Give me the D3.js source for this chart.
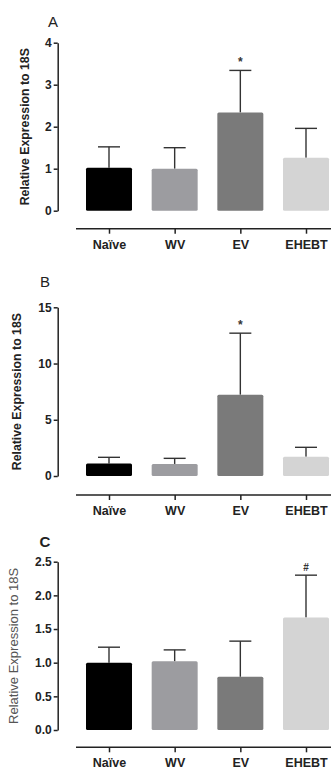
<!DOCTYPE html>
<html>
<head>
<meta charset="utf-8">
<script src="https://cdn.jsdelivr.net/npm/d3@7"></script>
<style>
  body { margin: 0; background: #fff; }
  svg { display: block; font-family: 'Liberation Sans', Arial, sans-serif; }
</style>
</head>
<body>
<script>
const categories = ['Naïve', 'WV', 'EV', 'EHEBT']
const barColors = ['#000000', '#9c9ca0', '#7a7a7a', '#d4d4d4']

// mean and upper error (mean + SD) for each panel
const meansA = [1.02, 1.0, 2.34, 1.26]
const upperA = [1.52, 1.5, 3.34, 1.96]
const marksA = ['', '', '*', '']
const ticksA = [0, 1, 2, 3, 4]

const meansB = [1.12, 1.07, 7.23, 1.72]
const upperB = [1.66, 1.57, 12.7, 2.55]
const marksB = ['', '', '*', '']
const ticksB = [0, 5, 10, 15]

const meansC = [1.0, 1.02, 0.79, 1.67]
const upperC = [1.23, 1.19, 1.32, 2.30]
const marksC = ['', '', '', '#']
const ticksC = [0, 0.5, 1.0, 1.5, 2.0, 2.5]

const width = 331
const height = 769

const svg = d3.select('body').append('svg')
  .attr('width', width)
  .attr('height', height)

const panels = [
  { title: 'A', titleBold: false, means: meansA, upper: upperA, marks: marksA, ticks: ticksA, fmt: d3.format('d'),
    yRange: [210.7, 42.7], axisY: 228.7, titleX: 53, titleY: 27, labelX: 29, labelBold: true },
  { title: 'B', titleBold: false, means: meansB, upper: upperB, marks: marksB, ticks: ticksB, fmt: d3.format('d'),
    yRange: [476, 307.3], axisY: 495, titleX: 45, titleY: 287, labelX: 21, labelBold: true },
  { title: 'C', titleBold: true, means: meansC, upper: upperC, marks: marksC, ticks: ticksC, fmt: d3.format('.1f'),
    yRange: [730, 561.7], axisY: 747.3, titleX: 45, titleY: 547, labelX: 18, labelBold: false }
]

const x = d3.scalePoint()
  .domain(categories)
  .range([109, 306])
const barWidth = 46
const capWidth = 22
const axisX = 57.7

panels.forEach(drawPanel)

function drawPanel (p) {
  const g = svg.append('g')
  const tMax = p.ticks[p.ticks.length - 1]

  const y = d3.scaleLinear()
    .domain([0, tMax])
    .range(p.yRange)

  // panel letter
  g.append('text')
    .attr('x', p.titleX)
    .attr('y', p.titleY)
    .attr('text-anchor', 'middle')
    .attr('font-size', 15)
    .attr('font-weight', p.titleBold ? 'bold' : 'normal')
    .attr('fill', '#222')
    .text(p.title)

  // y axis
  const yAxis = d3.axisLeft(y)
    .tickValues(p.ticks)
    .tickFormat(p.fmt)
    .tickSizeInner(4)
    .tickSizeOuter(0)
    .tickPadding(2)

  const ya = g.append('g')
    .attr('transform', `translate(${axisX},0)`)
    .call(yAxis)
  ya.select('.domain').attr('stroke', '#222').attr('stroke-width', 1.5)
  ya.selectAll('.tick line').attr('stroke', '#222').attr('stroke-width', 1.5)
  ya.selectAll('.tick text')
    .attr('font-size', 12)
    .attr('font-weight', 'bold')
    .attr('fill', '#222')
    .attr('font-family', 'Liberation Sans, Arial, sans-serif')

  g.append('text')
    .attr('transform', `translate(${p.labelX},${(p.yRange[0] + p.yRange[1]) / 2}) rotate(-90)`)
    .attr('text-anchor', 'middle')
    .attr('font-size', p.labelBold ? 12.3 : 13)
    .attr('font-weight', p.labelBold ? 'bold' : 'normal')
    .attr('fill', p.labelBold ? '#222' : '#555')
    .text('Relative Expression to 18S')

  // bars
  const data = categories.map((c, i) => ({ c, mean: p.means[i], up: p.upper[i], mark: p.marks[i], color: barColors[i] }))

  // error bars (upper only)
  const err = g.selectAll('.err').data(data).enter().append('g')
  err.append('line')
    .attr('x1', d => x(d.c)).attr('x2', d => x(d.c))
    .attr('y1', d => y(d.mean)).attr('y2', d => y(d.up))
    .attr('stroke', '#333').attr('stroke-width', 1.4)
  err.append('line')
    .attr('x1', d => x(d.c) - capWidth / 2).attr('x2', d => x(d.c) + capWidth / 2)
    .attr('y1', d => y(d.up)).attr('y2', d => y(d.up))
    .attr('stroke', '#333').attr('stroke-width', 1.4)
  err.append('text')
    .attr('x', d => x(d.c))
    .attr('y', d => y(d.up) - 4)
    .attr('text-anchor', 'middle')
    .attr('font-size', d => d.mark === '#' ? 10 : 12)
    .attr('font-weight', 'bold')
    .attr('fill', '#333')
    .text(d => d.mark)

  g.selectAll('.bar').data(data).enter().append('rect')
    .attr('x', d => x(d.c) - barWidth / 2)
    .attr('y', d => y(d.mean))
    .attr('width', barWidth)
    .attr('height', d => y(0) - y(d.mean))
    .attr('rx', 1.5)
    .attr('fill', d => d.color)

  // x axis, detached from y axis
  const xa = g.append('g')
    .attr('transform', `translate(0,${p.axisY})`)
    .call(d3.axisBottom(x).tickSizeInner(5).tickSizeOuter(0).tickPadding(6))
  xa.select('.domain').attr('d', `M76,0H${width}`).attr('stroke', '#222').attr('stroke-width', 1.5)
  xa.selectAll('.tick line').attr('stroke', '#222').attr('stroke-width', 1.5)
  xa.selectAll('.tick text')
    .attr('font-size', 12.5)
    .attr('font-weight', 'bold')
    .attr('fill', '#222')
    .attr('font-family', 'Liberation Sans, Arial, sans-serif')
}
</script>
</body>
</html>
